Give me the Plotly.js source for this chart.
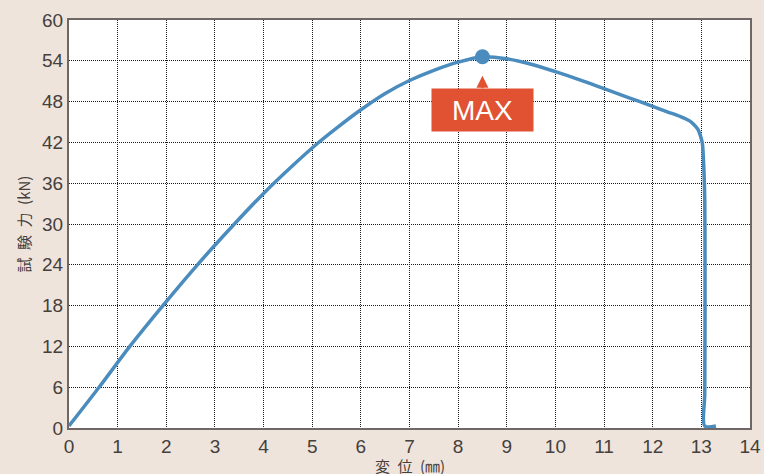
<!DOCTYPE html>
<html>
<head>
<meta charset="utf-8">
<script src="https://cdn.plot.ly/plotly-3.0.1.min.js"></script>
<style>html,body{margin:0;padding:0;background:#efe4dc;}</style>
</head>
<body>
<div id="chart" style="width:764px;height:474px;"></div>
<script>
const displacement = [0, 0.63, 1.25, 1.93, 2.64, 3.4, 4.0, 4.6, 5.1, 5.5, 6, 6.5, 7, 7.5, 8, 8.5, 9, 9.5, 10, 10.5, 11, 11.5, 12, 12.3, 12.57, 12.75, 12.85, 12.93, 12.98, 13.02, 13.05, 13.07, 13.075, 13.075, 13.07, 13.07, 13.3];
const force = [0.3, 6.1, 12, 18, 24, 30, 34.5, 38.6, 41.8, 44.1, 46.8, 49.2, 51.1, 52.6, 53.8, 54.6, 54.3, 53.5, 52.4, 51.2, 49.9, 48.6, 47.3, 46.5, 45.8, 45.2, 44.6, 43.9, 43.0, 41.9, 38.4, 33.5, 25, 15, 5, 0.3, 0.3];
const xTicks = [0,1,2,3,4,5,6,7,8,9,10,11,12,13,14];
const yTicks = [0,6,12,18,24,30,36,42,48,54,60];
const maxLabel = "MAX";
const xTitle = "変\u2002位\u2002(㎜)";
const yTitle = "試\u2002験\u2002力\u2002(kN)";

let iMax = 0;
force.forEach((v,i)=>{ if (v > force[iMax]) iMax = i; });

const fontFam = "Liberation Sans, Noto Sans CJK JP, sans-serif";
const lineColor = "#4b8cbe";

const traces = [
  {x: displacement, y: force, mode: "lines", line: {color: lineColor, width: 3.5, shape: "spline", smoothing: 0.8}, hoverinfo: "skip"},
  {x: [displacement[iMax]], y: [force[iMax]], mode: "markers", marker: {color: lineColor, size: 15}, hoverinfo: "skip"}
];

const axisCommon = {
  showgrid: true, gridcolor: "#1a1a1a", griddash: "1px,1px", gridwidth: 1,
  showline: true, linecolor: "#6e6763", linewidth: 2, mirror: true,
  zeroline: false, ticks: "", tickfont: {family: fontFam, size: 19, color: "#45403c"}
};

const layout = {
  width: 764, height: 474,
  margin: {l: 69, r: 14, t: 20, b: 46},
  paper_bgcolor: "#efe4dc", plot_bgcolor: "#ffffff",
  showlegend: false,
  xaxis: Object.assign({}, axisCommon, {
    range: [0, 14], tickvals: xTicks, ticktext: xTicks.map(String)
  }),
  yaxis: Object.assign({}, axisCommon, {
    range: [0, 60], tickvals: yTicks, ticktext: yTicks.map(String),
    title: {text: yTitle, font: {family: "Noto Sans CJK JP, sans-serif", size: 15, color: "#45403c"}, standoff: 8}
  }),
  annotations: [{
    x: displacement[iMax], y: force[iMax], xref: "x", yref: "y",
    text: maxLabel, font: {family: fontFam, size: 28, color: "#ffffff"},
    bgcolor: "#e05232", width: 101, height: 42, borderpad: 0,
    showarrow: true, ax: 0, ay: 53, axref: "pixel", ayref: "pixel",
    arrowhead: 2, arrowsize: 1.2, arrowwidth: 2, arrowcolor: "#e05232", standoff: 19
  }, {
    x: 0.5, y: 0, xref: "paper", yref: "paper", xanchor: "center", yanchor: "top",
    yshift: -26, showarrow: false, borderpad: 0,
    text: xTitle, font: {family: "Noto Sans CJK JP, sans-serif", size: 15, color: "#45403c"}
  }]
};

Plotly.newPlot("chart", traces, layout, {displayModeBar: false, staticPlot: true});
</script>
</body>
</html>
